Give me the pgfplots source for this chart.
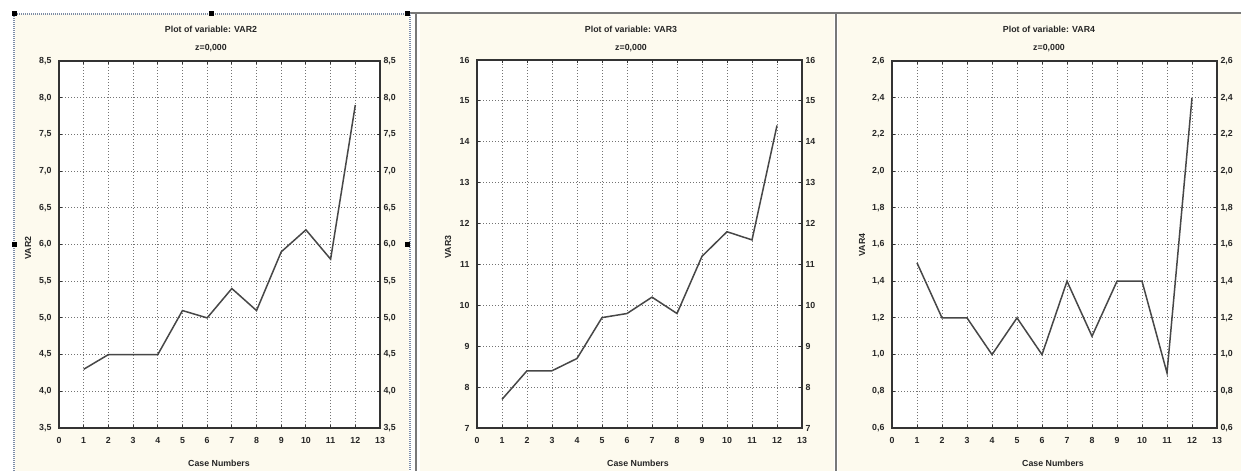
\documentclass[border=0pt]{standalone}
\usepackage{fontspec}
\setmainfont{Liberation Sans}
\usepackage{pgfplots}
\pgfplotsset{compat=1.18}

\definecolor{cream}{RGB}{253,250,238}
\definecolor{framegray}{RGB}{120,120,120}
\definecolor{selblue}{RGB}{125,140,165}

\pgfplotsset{
  common/.style={
    scale only axis, xmin=0, xmax=13,
    axis line style={draw=black!80, line width=1.5pt},
    tick style={draw=black!80, line width=1pt}, major tick length=3pt,
    tick align=inside,
    ticklabel style={font=\bfseries\fontsize{8.8}{10}\selectfont, text=black!85},
    /pgf/number format/assume math mode=true,
    /pgf/number format/use comma,
  },
  stat/.style={
    common, xtick={0,...,13}, xtick pos=both, ytick pos=left,
    grid=major, grid style={draw=black!55, line width=0.9pt, dash pattern=on 1pt off 2pt},
    xticklabel style={yshift=-6pt},
    yticklabel style={xshift=-4pt},
    axis background/.style={fill=white},
  },
  statright/.style={
    common, axis x line=none, axis y line*=right,
  },
  onedec/.style={yticklabel style={/pgf/number format/.cd, fixed, fixed zerofill, precision=1}},
  dataline/.style={draw=black!72, line width=1.5pt, mark=none},
}

\begin{document}
\begin{tikzpicture}[x=1pt,y=1pt]
\path[use as bounding box] (0,0) rectangle (1241,471);
% panel backgrounds
\fill[cream] (15,0) rectangle (409,457);
\fill[cream] (420,0) rectangle (834,457);
\fill[cream] (838,0) rectangle (1241,457);
% frames
\draw[framegray, line width=1.5pt] (410,458) -- (1241,458);
\draw[framegray, line width=1.8pt] (416,458) -- (416,0);
\draw[framegray, line width=1.8pt] (836,458) -- (836,0);
\draw[selblue, line width=1.5pt, dash pattern=on 1pt off 1pt] (14,0) -- (14,457) -- (410,457) -- (410,0);
\foreach \p in {(14,457),(211,457),(407,457),(14,226),(407,226)}
  \fill[black] \p ++(-2.5,-2.5) rectangle ++(5,5);

% ---------- VAR2 ----------
\begin{axis}[stat, onedec, at={(59pt,43pt)}, anchor=south west, width=321pt, height=367pt,
  ymin=3.5, ymax=8.5, ytick={3.5,4,4.5,5,5.5,6,6.5,7,7.5,8,8.5}]
\addplot[dataline] coordinates {(1,4.3)(2,4.5)(3,4.5)(4,4.5)(5,5.1)(6,5.0)(7,5.4)(8,5.1)(9,5.9)(10,6.2)(11,5.8)(12,7.9)};
\end{axis}
\begin{axis}[statright, onedec, at={(59pt,43pt)}, anchor=south west, width=321pt, height=367pt,
  ymin=3.5, ymax=8.5, ytick={3.5,4,4.5,5,5.5,6,6.5,7,7.5,8,8.5}]
\addplot[draw=none] coordinates {(0,3.5)};
\end{axis}

% ---------- VAR3 ----------
\begin{axis}[stat, at={(477pt,43pt)}, anchor=south west, width=325pt, height=368pt,
  ymin=7, ymax=16, ytick={7,...,16}]
\addplot[dataline] coordinates {(1,7.7)(2,8.4)(3,8.4)(4,8.7)(5,9.7)(6,9.8)(7,10.2)(8,9.8)(9,11.2)(10,11.8)(11,11.6)(12,14.4)};
\end{axis}
\begin{axis}[statright, at={(477pt,43pt)}, anchor=south west, width=325pt, height=368pt,
  ymin=7, ymax=16, ytick={7,...,16}]
\addplot[draw=none] coordinates {(0,7)};
\end{axis}

% ---------- VAR4 ----------
\begin{axis}[stat, onedec, at={(892pt,43pt)}, anchor=south west, width=325pt, height=367pt,
  ymin=0.6, ymax=2.6, ytick={0.6,0.8,1.0,1.2,1.4,1.6,1.8,2.0,2.2,2.4,2.6}]
\addplot[dataline] coordinates {(1,1.5)(2,1.2)(3,1.2)(4,1.0)(5,1.2)(6,1.0)(7,1.4)(8,1.1)(9,1.4)(10,1.4)(11,0.9)(12,2.4)};
\end{axis}
\begin{axis}[statright, onedec, at={(892pt,43pt)}, anchor=south west, width=325pt, height=367pt,
  ymin=0.6, ymax=2.6, ytick={0.6,0.8,1.0,1.2,1.4,1.6,1.8,2.0,2.2,2.4,2.6}]
\addplot[draw=none] coordinates {(0,0.6)};
\end{axis}

% titles and labels
\tikzset{lab/.style={font=\bfseries\fontsize{8.8}{10}\selectfont, text=black!85, inner sep=0pt}}
\node[lab] at (211,442) {Plot of variable: VAR2};
\node[lab] at (211,423) {z=0,000};
\node[lab] at (631,442) {Plot of variable: VAR3};
\node[lab] at (631,423) {z=0,000};
\node[lab] at (1049,442) {Plot of variable: VAR4};
\node[lab] at (1049,423) {z=0,000};
\node[lab, rotate=90] at (28,223) {VAR2};
\node[lab, rotate=90] at (448,224) {VAR3};
\node[lab, rotate=90] at (862,226) {VAR4};
\node[lab] at (219,8) {Case Numbers};
\node[lab] at (638,8) {Case Numbers};
\node[lab] at (1053,8) {Case Numbers};
\end{tikzpicture}
\end{document}
